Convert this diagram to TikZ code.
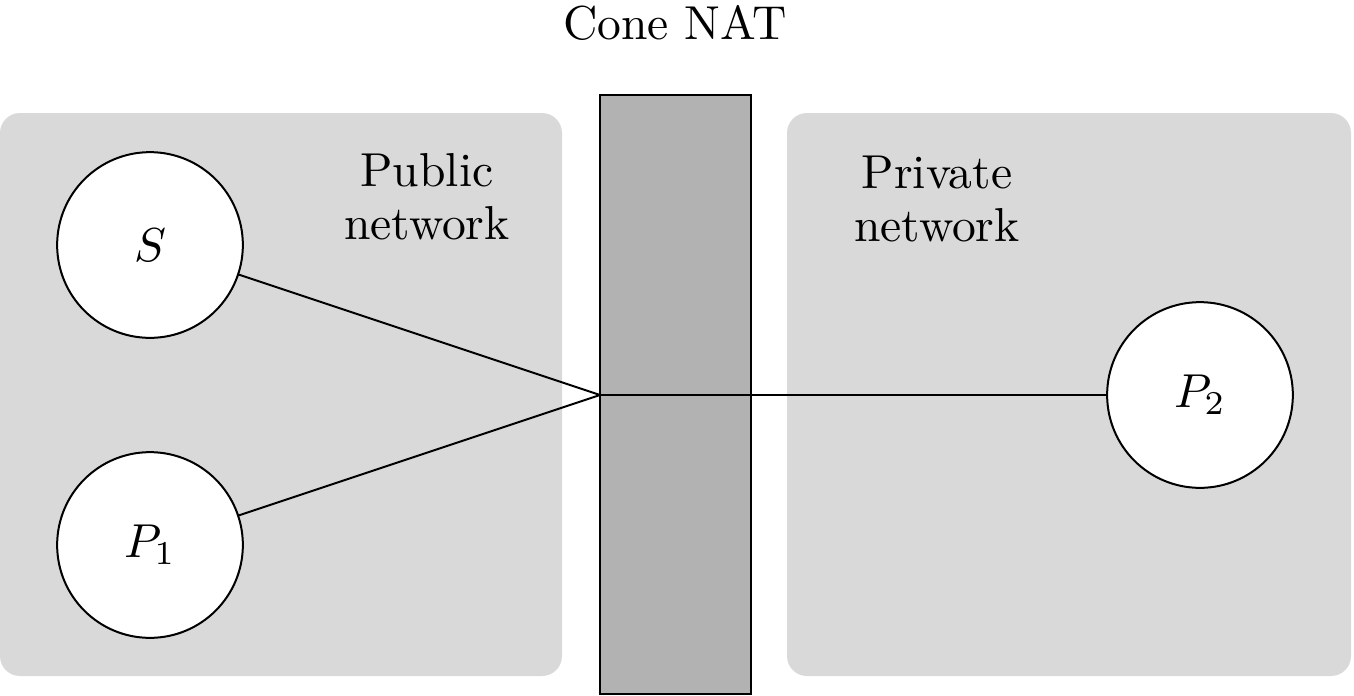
\documentclass[tikz,border=0pt]{standalone}
\usetikzlibrary{calc}
\definecolor{netgray}{gray}{0.85}
\definecolor{natgray}{gray}{0.7}
\begin{document}
\begin{tikzpicture}[x=0.21pt,y=-0.21pt,
  netbox/.style={fill=netgray,draw=none,rounded corners=4.2pt},
  natbox/.style={fill=natgray,draw=black,line width=0.42pt},
  host/.style={circle,draw=black,fill=white,line width=0.42pt,minimum size=39pt,inner sep=0pt,font=\fontsize{10}{12}\selectfont},
  link/.style={draw=black,line width=0.42pt},
  lbl/.style={align=center,inner sep=0pt,font=\fontsize{10}{11.1}\selectfont}]
\useasboundingbox (0,0) rectangle (1354,696);
\path[netbox] (0,113) rectangle (562,676);
\path[netbox] (787,113) rectangle (1351,676);
\path[natbox] (600,94.5) rectangle (750.5,694);
\node[lbl,anchor=base] (nat) at (675,39) {Cone NAT};
\node[lbl] (pub) at (427,197) {Public\\network};
\node[lbl] (priv) at (937,199) {Private\\network};
\coordinate (m) at (600,395);
\node[host] (S) at (150,245) {$S$};
\node[host] (P1) at (150,545) {$P_1$};
\node[host] (P2) at (1200,395) {$P_2$};
\draw[link] (S) -- (m);
\draw[link] (P1) -- (m);
\draw[link] (m) -- (P2);
\end{tikzpicture}
\end{document}
